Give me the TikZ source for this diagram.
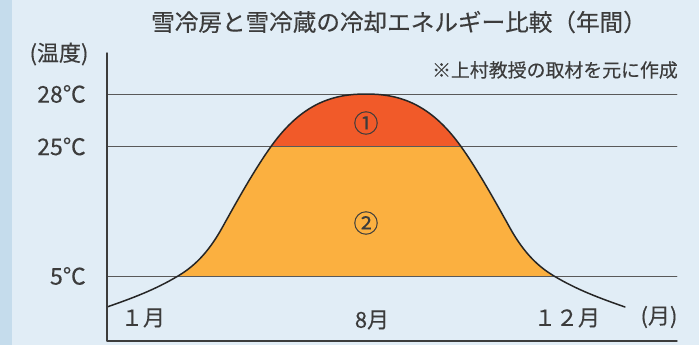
\documentclass[tikz,border=0pt]{standalone}
\usepackage{fontspec}
\setmainfont{Noto Sans CJK JP}[FakeBold=0.25]
\definecolor{bgblue}{RGB}{225,237,246}
\definecolor{stripblue}{RGB}{197,220,236}
\definecolor{hotred}{RGB}{241,90,41}
\definecolor{warmorange}{RGB}{251,176,64}
\definecolor{inkgray}{RGB}{60,60,60}
\tikzset{
  gridline/.style={draw=inkgray!85, line width=0.8pt},
  axisline/.style={draw=inkgray, line width=1.4pt},
  curveline/.style={draw=black!85, line width=1.5pt},
  txt/.style={inner sep=0pt, text=inkgray, font=\fontsize{22}{25}\selectfont},
}
\begin{document}
\begin{tikzpicture}[x=1pt, y=-1pt, line join=round, line cap=round]
		% background
		\fill[bgblue] (0,0) rectangle (699,345);
		\fill[stripblue] (0,0) rectangle (11.5,345);
		
		\def\tempcurve{(107,307) .. controls (130.7,298.7) and (154.3,290.2) .. (178,276)
		.. controls (192.7,267.2) and (207.3,254.4) .. (222,228)
		.. controls (238.3,198.6) and (254.7,169.4) .. (271,146.5)
		.. controls (302.7,102.2) and (334.3,94) .. (366,94)
		.. controls (397.7,94) and (429.3,102.2) .. (461,146.5)
		.. controls (477.3,169.4) and (493.7,198.6) .. (510,228)
		.. controls (524.7,254.4) and (539.3,267.2) .. (554,276)
		.. controls (577.7,290.2) and (601.3,298.7) .. (625,307)}
		
		% areas
		\begin{scope}
		\clip (100,146.5) rectangle (680,276);
		\fill[warmorange] \tempcurve -- cycle;
		\end{scope}
		\begin{scope}
		\clip (100,0) rectangle (680,146.5);
		\fill[hotred] \tempcurve -- cycle;
		\end{scope}
		
		% temperature lines
		\foreach \t/\y in {28/94,25/146.5,5/276}
		{
		\draw[gridline] (107,\y) -- (677,\y);
		\node[txt, anchor=east, font=\fontsize{23}{26}\selectfont] (t\t) at (86,\y) {\t℃};
		}
		
		\draw[curveline] \tempcurve;
		\draw[axisline] (107,53) -- (107,341) -- (677,341);
		
		\node[txt] (unit) at (59,54) {(温度)};
		\node[txt, font=\fontsize{25}{28}\selectfont] (one) at (366,123) {①};
		\node[txt, font=\fontsize{25}{28}\selectfont] (two) at (366,223) {②};
		
		\node[txt] (jan) at (143,318) {１月};
		\node[txt] (aug) at (372,320) {8月};
		\node[txt] (dec) at (567,318) {１２月};
		\node[txt] (month) at (659,317) {(月)};
		
		% title and note
		\node[txt, font=\fontsize{23.6}{27}\selectfont] (title) at (399,22) {雪冷房と雪冷蔵の冷却エネルギー比較（年間）};
		\node[txt, anchor=east, font=\fontsize{18.9}{22}\selectfont] (note) at (678,70) {※上村教授の取材を元に作成};
		
\end{tikzpicture}
\end{document}
